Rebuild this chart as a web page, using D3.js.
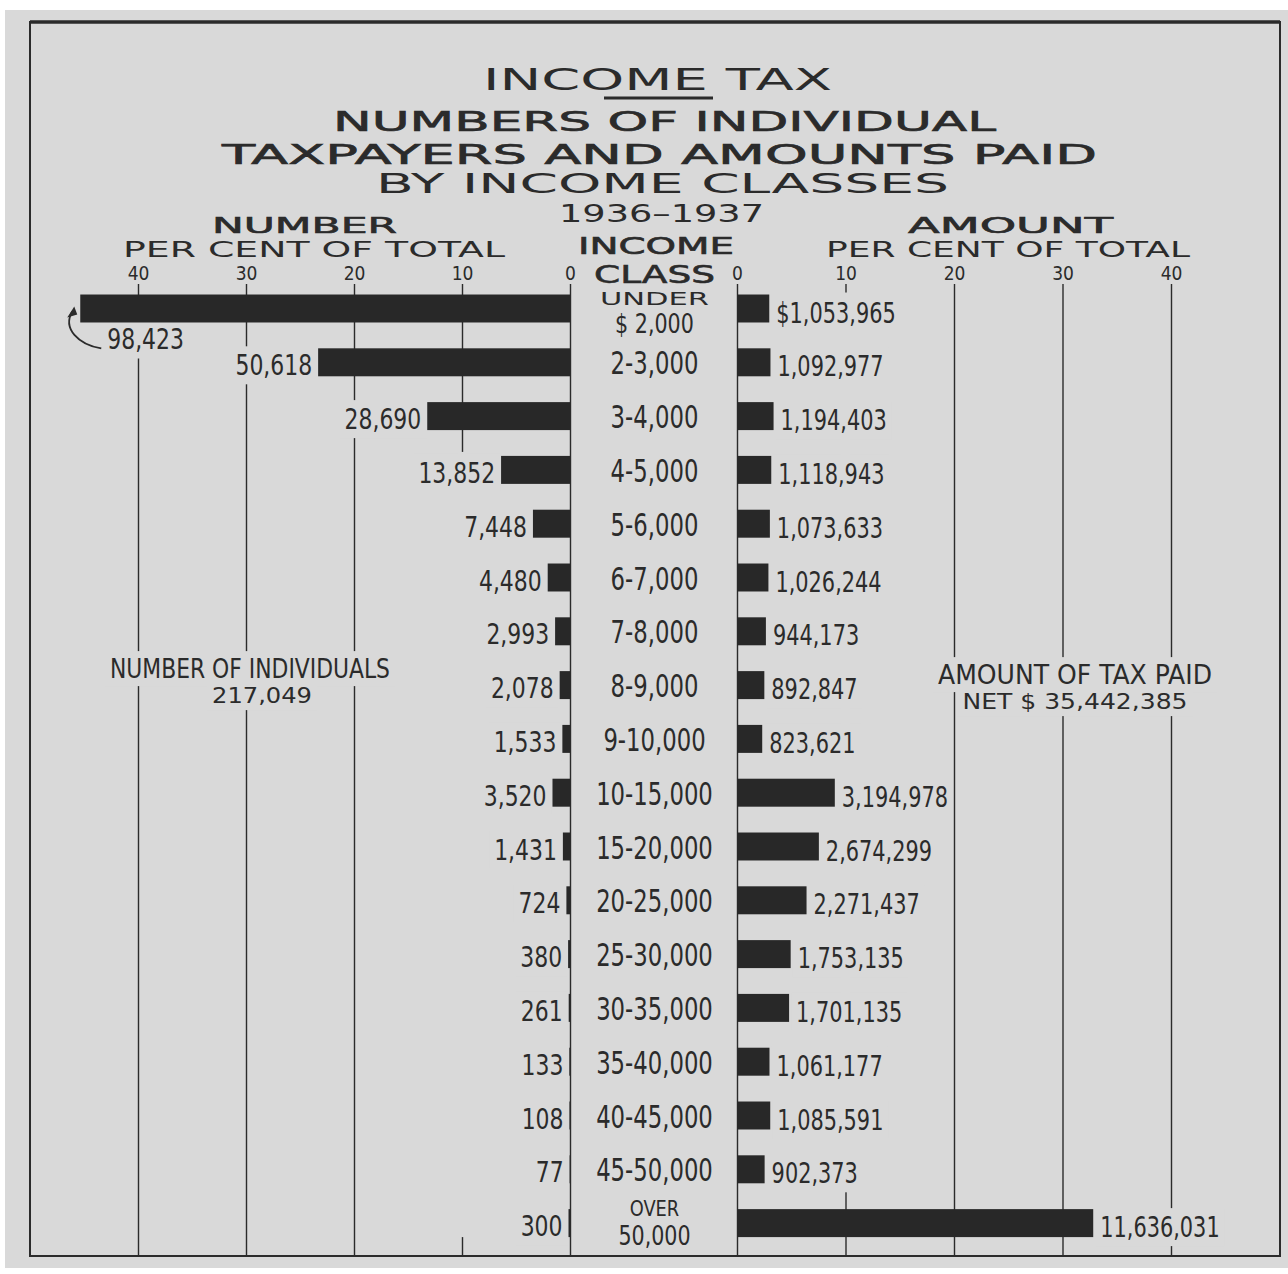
<!DOCTYPE html>
<meta charset="utf-8">

<head>
    <script src="https://d3js.org/d3.v7.min.js"></script>
</head>
<style>
    body {
        margin: 0;
        background: #fff;
    }

    svg text {
        fill: #2b2b2b;
    }

    .narrow {
        font-family: "Liberation Sans Narrow", "DejaVu Sans Condensed", sans-serif;
    }

    .wide {
        font-family: "DejaVu Sans", sans-serif;
    }
</style>

<body>
    <script>
        'use strict';

        const incomeClasses = ["UNDER\n$ 2,000", "2-3,000", "3-4,000", "4-5,000", "5-6,000", "6-7,000",
            "7-8,000", "8-9,000", "9-10,000", "10-15,000", "15-20,000", "20-25,000", "25-30,000",
            "30-35,000", "35-40,000", "40-45,000", "45-50,000", "OVER\n50,000"];

        const taxpayers = [98423, 50618, 28690, 13852, 7448, 4480, 2993, 2078, 1533,
            3520, 1431, 724, 380, 261, 133, 108, 77, 300];

        const amounts = [1053965, 1092977, 1194403, 1118943, 1073633, 1026244, 944173, 892847, 823621,
            3194978, 2674299, 2271437, 1753135, 1701135, 1061177, 1085591, 902373, 11636031];

        const totalTaxpayers = 217049;
        const totalAmount = 35442385;
        const percentTicks = [0, 10, 20, 30, 40];

        const W = 1288, H = 1274;
        const bg = "#d9d9d9", ink = "#2b2b2b";
        const gridTop = 284, gridBottom = 1256;

        const xLeft = d3.scaleLinear().domain([0, 40]).range([570, 138]);
        const xRight = d3.scaleLinear().domain([0, 40]).range([737, 1171]);
        const y = d3.scaleBand().domain(d3.range(incomeClasses.length))
            .range([281.6, 1250]).paddingInner(0.48).paddingOuter(0.24);
        const bw = y.bandwidth();
        const fmt = d3.format(",");
        const pctN = (v) => v / totalTaxpayers * 100;
        const pctA = (v) => v / totalAmount * 100;

        // hand lettering is narrower than any font we have, so squeeze it
        function squeeze(sel, k) {
            sel.each(function () {
                const len = this.getComputedTextLength();
                d3.select(this).attr("textLength", len * k).attr("lengthAdjust", "spacingAndGlyphs");
            });
            return sel;
        }

        const svg = d3.select("body").append("svg")
            .attr("width", W).attr("height", H);

        // scanned page background
        svg.append("rect").attr("x", 5).attr("y", 10)
            .attr("width", W - 5).attr("height", 1258).attr("fill", bg);

        const gridG = svg.append("g");
        const maskG = svg.append("g");
        const barG = svg.append("g");
        const textG = svg.append("g");

        // gridlines from the axes
        [xLeft, xRight].forEach((sc) => {
            const g = gridG.append("g")
                .attr("transform", `translate(0,${gridTop})`)
                .call(d3.axisBottom(sc).tickValues(percentTicks)
                    .tickSize(gridBottom - gridTop).tickSizeOuter(0).tickFormat(""));
            g.select(".domain").remove();
            g.selectAll("line").attr("stroke", ink).attr("stroke-width", 1.4);

            const t = textG.append("g")
                .attr("transform", `translate(0,280)`)
                .call(d3.axisTop(sc).tickValues(percentTicks).tickSize(0).tickPadding(0));
            t.select(".domain").remove();
            t.selectAll("text").attr("class", "narrow").attr("font-size", 19)
                .attr("fill", "#333");
        });

        // bars
        barG.selectAll(".lbar").data(taxpayers).join("rect")
            .attr("x", (d) => xLeft(pctN(d)))
            .attr("y", (d, i) => y(i))
            .attr("width", (d) => xLeft(0) - xLeft(pctN(d)))
            .attr("height", bw)
            .attr("fill", "#282828");

        barG.selectAll(".rbar").data(amounts).join("rect")
            .attr("x", xRight(0))
            .attr("y", (d, i) => y(i))
            .attr("width", (d) => xRight(pctA(d)) - xRight(0))
            .attr("height", bw)
            .attr("fill", "#282828");

        const boxed = [];

        // left value labels
        taxpayers.forEach((d, i) => {
            const c = y(i) + bw / 2;
            let t;
            if (i === 0) {
                const x0 = xLeft(pctN(d));
                t = textG.append("text").attr("class", "narrow")
                    .attr("x", x0 + 27).attr("y", y(i) + bw + 27)
                    .attr("font-size", 29).text(fmt(d));
                // curved arrow back to the end of the long bar
                textG.append("path")
                    .attr("d", `M${x0 + 21},${y(i) + bw + 26} C${x0 - 2},${y(i) + bw + 22} ${x0 - 18},${y(i) + bw + 6} ${x0 - 8},${y(i) + bw - 11}`)
                    .attr("fill", "none").attr("stroke", ink).attr("stroke-width", 1.8);
                textG.append("path")
                    .attr("d", `M${x0 - 6},${y(i) + bw - 16} L${x0 - 13},${y(i) + bw - 5} L${x0 - 3},${y(i) + bw - 8} Z`)
                    .attr("fill", ink);
            } else {
                t = textG.append("text").attr("class", "narrow")
                    .attr("x", xLeft(pctN(d)) - 6).attr("y", c + 13)
                    .attr("text-anchor", "end").attr("font-size", 29).text(fmt(d));
            }
            squeeze(t, 0.84);
            boxed.push(t);
        });

        // right value labels
        amounts.forEach((d, i) => {
            const c = y(i) + bw / 2;
            const t = textG.append("text").attr("class", "narrow")
                .attr("x", xRight(pctA(d)) + 7).attr("y", c + 14)
                .attr("font-size", 29).text((i === 0 ? "$" : "") + fmt(d));
            squeeze(t, 0.8);
            boxed.push(t);
        });

        // income class labels
        const cx = (xLeft(0) + xRight(0)) / 2 + 1;
        incomeClasses.forEach((d, i) => {
            const c = y(i) + bw / 2;
            const parts = d.split("\n");
            if (parts.length === 1) {
                squeeze(textG.append("text").attr("class", "narrow")
                    .attr("x", cx).attr("y", c + 12).attr("text-anchor", "middle")
                    .attr("font-size", 32).text(d), 0.79);
            } else if (parts[0] === "UNDER") {
                textG.append("text").attr("class", "wide")
                    .attr("x", cx).attr("y", c - 4).attr("text-anchor", "middle")
                    .attr("font-size", 17).attr("fill", "#555")
                    .attr("textLength", 109).attr("lengthAdjust", "spacingAndGlyphs")
                    .text(parts[0]);
                squeeze(textG.append("text").attr("class", "narrow")
                    .attr("x", cx).attr("y", c + 24).attr("text-anchor", "middle")
                    .attr("font-size", 27).text(parts[1]), 0.85);
            } else {
                squeeze(textG.append("text").attr("class", "narrow")
                    .attr("x", cx).attr("y", c - 7).attr("text-anchor", "middle")
                    .attr("font-size", 22).text(parts[0]), 0.9);
                squeeze(textG.append("text").attr("class", "narrow")
                    .attr("x", cx).attr("y", c + 22).attr("text-anchor", "middle")
                    .attr("font-size", 27).text(parts[1]), 0.85);
            }
        });

        // totals
        const midRow = y(7) + bw / 2;
        boxed.push(textG.append("text").attr("class", "narrow")
            .attr("x", 250).attr("y", midRow - 7).attr("text-anchor", "middle")
            .attr("font-size", 27).attr("textLength", 280).attr("lengthAdjust", "spacingAndGlyphs")
            .attr("fill", "#333")
            .text("NUMBER OF INDIVIDUALS"));
        boxed.push(textG.append("text").attr("class", "wide")
            .attr("x", 262).attr("y", midRow + 18).attr("text-anchor", "middle")
            .attr("font-size", 22).attr("fill", "#444")
            .attr("textLength", 100).attr("lengthAdjust", "spacingAndGlyphs")
            .text(fmt(totalTaxpayers)));
        boxed.push(textG.append("text").attr("class", "narrow")
            .attr("x", 1075).attr("y", midRow - 1).attr("text-anchor", "middle")
            .attr("font-size", 27).attr("textLength", 274).attr("lengthAdjust", "spacingAndGlyphs")
            .attr("fill", "#333")
            .text("AMOUNT OF TAX PAID"));
        boxed.push(textG.append("text").attr("class", "wide")
            .attr("x", 1075).attr("y", midRow + 24).attr("text-anchor", "middle")
            .attr("font-size", 22).attr("fill", "#444")
            .attr("textLength", 225).attr("lengthAdjust", "spacingAndGlyphs")
            .text("NET $ " + fmt(totalAmount)));

        // whiteout behind labels, as on the drawing
        boxed.forEach((t) => {
            const b = t.node().getBBox();
            maskG.append("rect")
                .attr("x", b.x - 5).attr("y", b.y - 2)
                .attr("width", b.width + 10).attr("height", b.height + 4)
                .attr("fill", bg);
        });
        // the 10 per cent lines are left out through the middle
        maskG.append("rect").attr("x", xLeft(10) - 4).attr("width", 8)
            .attr("y", y(3) - 4).attr("height", y(17) + bw - y(3) + 4).attr("fill", bg);
        maskG.append("rect").attr("x", xRight(10) - 4).attr("width", 8)
            .attr("y", y(0) - 2).attr("height", y(16) + bw + 5 - y(0)).attr("fill", bg);

        // headings
        function heading(txt, x, w, yy, size, opts) {
            opts = opts || {};
            return svg.append("text").attr("class", "wide")
                .attr("x", x).attr("y", yy).attr("font-size", size)
                .attr("textLength", w).attr("lengthAdjust", "spacingAndGlyphs")
                .attr("fill", opts.fill || ink)
                .attr("stroke", opts.stroke ? ink : "none")
                .attr("stroke-width", opts.stroke || 0)
                .text(txt);
        }
        heading("INCOME TAX", 483, 349, 90, 31);
        svg.append("line").attr("x1", 604).attr("x2", 713).attr("y1", 98).attr("y2", 98)
            .attr("stroke", ink).attr("stroke-width", 3);
        heading("NUMBERS OF INDIVIDUAL", 333, 663, 131, 27, { stroke: 0.6 });
        heading("TAXPAYERS AND AMOUNTS PAID", 222, 875, 164, 27, { stroke: 0.6 });
        heading("BY INCOME CLASSES", 376, 573, 193, 26);
        heading("1936–1937", 559, 205, 222, 24, { fill: "#5a5a5a" });
        heading("NUMBER", 212, 185, 233, 22, { stroke: 0.6 });
        heading("PER CENT OF TOTAL", 123, 382, 257, 21, { fill: "#444" });
        heading("INCOME", 578, 156, 254, 23, { stroke: 0.6 });
        heading("CLASS", 594, 121, 283, 24, { stroke: 0.6 });
        heading("AMOUNT", 908, 205, 233, 22, { stroke: 0.6 });
        heading("PER CENT OF TOTAL", 826, 364, 257, 21, { fill: "#444" });

        // frame
        svg.append("rect").attr("x", 30).attr("y", 22)
            .attr("width", 1250).attr("height", gridBottom - 22)
            .attr("fill", "none").attr("stroke", ink).attr("stroke-width", 2);
        svg.append("line").attr("x1", 30).attr("x2", 1280).attr("y1", 22).attr("y2", 22)
            .attr("stroke", ink).attr("stroke-width", 3.5);
    </script>
</body>
